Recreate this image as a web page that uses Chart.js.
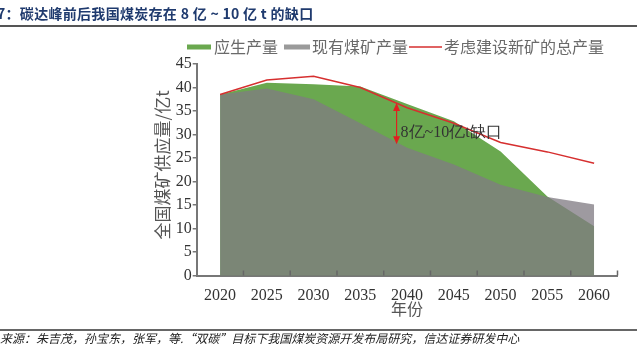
<!DOCTYPE html>
<html>
<head>
<meta charset="utf-8">
<script src="https://cdn.jsdelivr.net/npm/chart.js@4"></script>
<style>
  html,body{margin:0;padding:0;background:#fff;}
  #wrap{position:relative;width:637px;height:355px;}
</style>
</head>
<body>
<div id="wrap"><canvas id="c" width="637" height="355"></canvas></div>
<script>
// ---- data ----
const years = ['2020','2025','2030','2035','2040','2045','2050','2055','2060'];
const requiredOutput = [38.5, 41.0, 40.7, 40.2, 36.5, 32.8, 26.4, 16.8, 10.5];   // 应生产量
const existingMines  = [38.5, 39.8, 37.5, 32.4, 27.2, 23.6, 19.3, 16.7, 15.1];   // 现有煤矿产量
const totalWithNew   = [38.5, 41.6, 42.4, 40.0, 35.7, 32.4, 28.3, 26.3, 23.9];   // 考虑建设新矿的总产量
const yTicks = [0,5,10,15,20,25,30,35,40,45];
const seriesNames = ['应生产量','现有煤矿产量','考虑建设新矿的总产量'];
const titleText = '7：碳达峰前后我国煤炭存在 8 亿 ~ 10 亿 t 的缺口';
const footerText = '来源：朱吉茂，孙宝东，张军，等.“双碳”目标下我国煤炭资源开发布局研究，信达证券研发中心';
const yTitle = '全国煤矿供应量/亿t';
const xTitle = '年份';
const gapLabel = '8亿~10亿t缺口';
const gapArrow = {x: 3.775, top: 36.7, bottom: 27.9, labelY: 30.4}; // in data units

const GREEN = '#6aa84f';
const GRAY_FILL = 'rgba(128,123,131,0.765)';
const RED = '#d62f2f';
const SERIF = '"Liberation Serif","Times New Roman",serif';
const CJK = '"Noto Sans CJK SC","Noto Sans",sans-serif';

const decor = {
  id: 'decor',
  afterDraw(chart) {
    const ctx = chart.ctx;
    const xs = chart.scales.x, ys = chart.scales.y;
    ctx.save();
    // title
    ctx.fillStyle = '#1f3a6e';
    ctx.font = 'bold 14px ' + CJK;
    ctx.textBaseline = 'middle';
    ctx.textAlign = 'left';
    try { ctx.letterSpacing = '0.3px'; } catch (e) {}
    ctx.fillText(titleText, -3, 14);
    try { ctx.letterSpacing = '0px'; } catch (e) {}
    ctx.strokeStyle = '#555';
    ctx.lineWidth = 2;
    ctx.beginPath(); ctx.moveTo(0, 26); ctx.lineTo(637, 26); ctx.stroke();
    // footer
    ctx.strokeStyle = '#666';
    ctx.beginPath(); ctx.moveTo(0, 330); ctx.lineTo(637, 330); ctx.stroke();
    ctx.fillStyle = '#222';
    ctx.font = 'italic 12px ' + CJK;
    ctx.fillText(footerText, 0, 338);

    // legend
    ctx.font = '16px ' + CJK;
    ctx.textBaseline = 'middle';
    const ly = 47;
    ctx.fillStyle = GREEN; ctx.fillRect(187, ly - 2.5, 24, 5);
    ctx.fillStyle = '#6a6a6a'; ctx.fillText(seriesNames[0], 214, ly);
    ctx.fillStyle = '#9a9a9a'; ctx.fillRect(284, ly - 2.5, 26, 5);
    ctx.fillStyle = '#6a6a6a'; ctx.fillText(seriesNames[1], 312, ly);
    ctx.strokeStyle = RED; ctx.lineWidth = 1.5;
    ctx.beginPath(); ctx.moveTo(409, ly); ctx.lineTo(442, ly); ctx.stroke();
    ctx.fillText(seriesNames[2], 444, ly);

    // axis titles
    ctx.fillStyle = '#555';
    ctx.font = '16px ' + CJK;
    ctx.textAlign = 'center';
    ctx.fillText(xTitle, xs.getPixelForValue(4), 309);
    ctx.save();
    ctx.translate(163, 165);
    ctx.rotate(-Math.PI / 2);
    ctx.font = '17px ' + CJK;
    ctx.fillText(yTitle, 0, 0);
    ctx.restore();

    // inward x ticks at category boundaries
    ctx.strokeStyle = '#666'; ctx.lineWidth = 1.5;
    const yb = chart.chartArea.bottom;
    for (let i = 0; i < years.length; i++) {
      const px = xs.getPixelForValue(i + 0.5);
      ctx.beginPath(); ctx.moveTo(px, yb); ctx.lineTo(px, yb - 5); ctx.stroke();
    }

    // gap arrow
    const ax = xs.getPixelForValue(gapArrow.x);
    const at = ys.getPixelForValue(gapArrow.top);
    const ab = ys.getPixelForValue(gapArrow.bottom);
    ctx.strokeStyle = '#e02020'; ctx.fillStyle = '#e02020'; ctx.lineWidth = 1.2;
    ctx.beginPath(); ctx.moveTo(ax, at + 6); ctx.lineTo(ax, ab - 6); ctx.stroke();
    ctx.beginPath(); ctx.moveTo(ax, at); ctx.lineTo(ax - 3.5, at + 8); ctx.lineTo(ax + 3.5, at + 8); ctx.closePath(); ctx.fill();
    ctx.beginPath(); ctx.moveTo(ax, ab); ctx.lineTo(ax - 3.5, ab - 8); ctx.lineTo(ax + 3.5, ab - 8); ctx.closePath(); ctx.fill();
    ctx.fillStyle = '#333';
    ctx.font = '16px ' + SERIF;
    ctx.textAlign = 'left';
    ctx.fillText(gapLabel, ax + 4, ys.getPixelForValue(gapArrow.labelY));
    ctx.restore();
  }
};

new Chart(document.getElementById('c'), {
  type: 'line',
  data: {
    labels: years,
    datasets: [
      { label: seriesNames[2], data: totalWithNew, borderColor: RED, borderWidth: 1.5,
        pointRadius: 0, fill: false, tension: 0, order: 0 },
      { label: seriesNames[1], data: existingMines, borderWidth: 0, borderColor: 'rgba(0,0,0,0)',
        backgroundColor: GRAY_FILL, pointRadius: 0, fill: 'origin', tension: 0, order: 1 },
      { label: seriesNames[0], data: requiredOutput, borderWidth: 0, borderColor: 'rgba(0,0,0,0)',
        backgroundColor: GREEN, pointRadius: 0, fill: 'origin', tension: 0, order: 2 }
    ]
  },
  options: {
    responsive: false,
    animation: false,
    events: [],
    layout: { padding: { top: 64, right: 19.5, bottom: 0, left: 0 } },
    plugins: { legend: { display: false }, title: { display: false }, tooltip: { enabled: false } },
    scales: {
      x: {
        type: 'category',
        offset: true,
        grid: { display: false, offset: true },
        border: { display: true, color: '#777', width: 2 },
        ticks: { color: '#333', font: { family: SERIF, size: 16 }, padding: 3, maxRotation: 0, autoSkip: false },
        afterFit(s) { s.height = 79.5; }
      },
      y: {
        min: 0, max: 45,
        afterBuildTicks(s) { s.ticks = yTicks.map(v => ({ value: v })); },
        grid: { drawOnChartArea: false, drawTicks: true, tickLength: 4, color: '#777', lineWidth: 1.5 },
        border: { display: true, color: '#777', width: 2 },
        ticks: { color: '#333', font: { family: SERIF, size: 16 }, padding: 1 },
        afterFit(s) { s.width = 196.7; }
      }
    }
  },
  plugins: [decor]
});
</script>
</body>
</html>
